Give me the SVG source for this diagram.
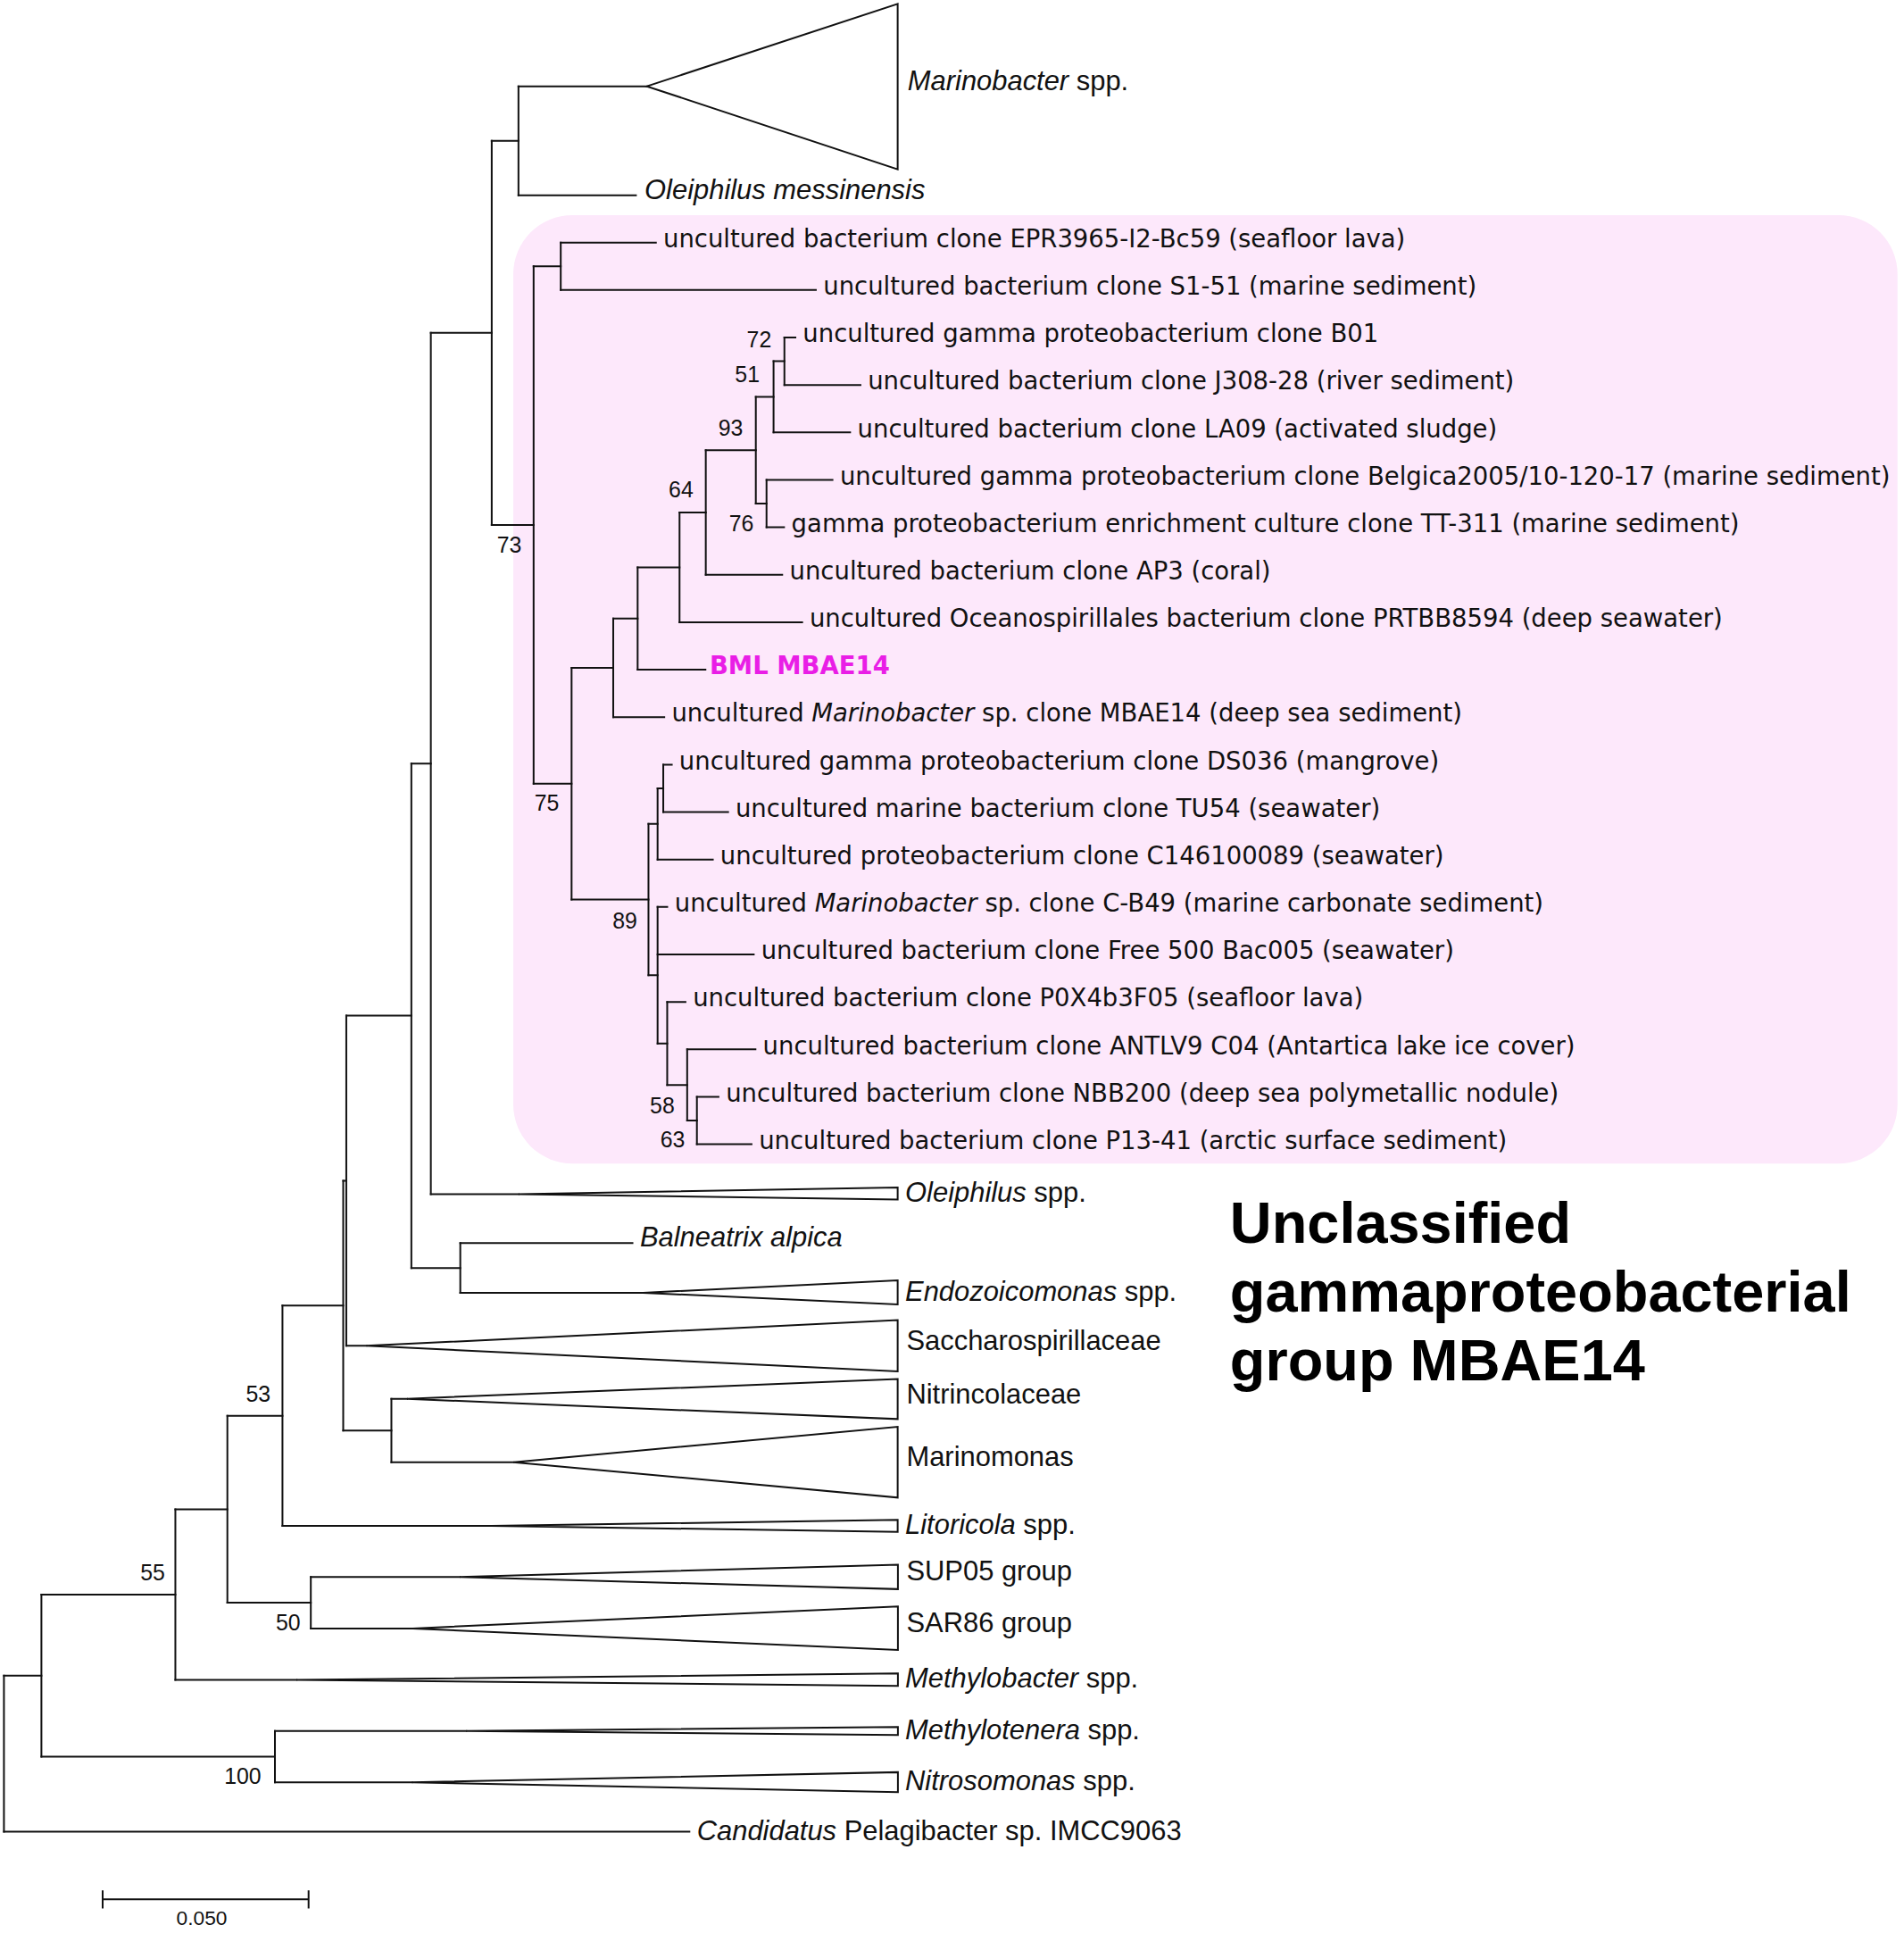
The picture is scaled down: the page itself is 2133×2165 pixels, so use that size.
<svg xmlns="http://www.w3.org/2000/svg" width="2133" height="2165" viewBox="0 0 2133 2165">
<style>
.br{fill:none;stroke:#111;stroke-width:1.45;stroke-linecap:square}
.tri{fill:none;stroke:#111;stroke-width:1.45;stroke-linejoin:miter}
.lf{font-family:"DejaVu Sans",Verdana,sans-serif;font-size:19.9px;fill:#111}
.cl{font-family:"Liberation Sans",Arial,sans-serif;font-size:22.4px;fill:#111}
.bs{font-family:"Liberation Sans",Arial,sans-serif;font-size:18px;fill:#111;text-anchor:end}
.hd{font-family:"Liberation Sans",Arial,sans-serif;font-size:47px;font-weight:bold;fill:#000}
.sc{font-family:"Liberation Sans",Arial,sans-serif;font-size:16.5px;fill:#111;text-anchor:middle}
.it{font-style:italic}
.bml{font-family:"DejaVu Sans",Verdana,sans-serif;font-size:19.9px;font-weight:bold;fill:#e91ee6}
</style>
<rect width="2133" height="2165" fill="#fff"/>
<g transform="scale(1.3806)">
<rect id="highlight-box" x="416.5" y="174.5" width="1123.2" height="769.5" rx="48" ry="48" fill="#fde8fb"/>
<g id="connectors">
<path class="br" d="M3.2 1359.35V1486M33.6 1293.65V1425.05M223.1 1404.2V1445.9M142.3 1224.4V1362.9M184.5 1148.55V1300.2M252.2 1279.3V1321.1M229.2 1059.2V1237.9M278.5 957.9V1160.5M281 824V1091.8M317.6 1134.8V1186.2M333.8 619.4V1028.65M373.5 1008.5V1048.8M349.6 270.05V968.7M399 114.2V425.9M420.7 70V158.4M433 216.05V635.8M455 196.8V235.3M463.8 541.8V729.8M497.6 501.8V581.8M517.4 460.3V543.3M551.4 415.75V504.8M572.7 365.2V466.3M613.3 321.9V408.55M627.7 293.05V350.8M636.5 273.8V312.3M622 389.3V427.8M526.2 668.4V791.15M533.6 639.55V697.3M538.2 620.3V658.8M533.6 735.8V846.5M541.4 812.8V880.2M557.6 851.3V909.05M565.5 889.8V928.3"/>
<path class="br" d="M3.2 1359.35H33.6M3.2 1486H559.4M33.6 1293.65H142.3M33.6 1425.05H223.1M223.1 1404.2H378.3M223.1 1445.9H334.3M142.3 1224.4H184.5M142.3 1362.9H240.6M184.5 1148.55H229.2M184.5 1300.2H252.2M252.2 1279.3H373.1M252.2 1321.1H335M229.2 1059.2H278.5M229.2 1237.9H398.9M278.5 957.9H281M278.5 1160.5H317.6M281 824H333.8M281 1091.8H297.3M317.6 1134.8H330.3M317.6 1186.2H416.7M333.8 619.4H349.6M333.8 1028.65H373.5M373.5 1008.5H513.2M373.5 1048.8H521.8M349.6 270.05H399M349.6 968.7H420.7M399 114.2H420.7M399 425.9H433M420.7 70H524.9M420.7 158.4H516M433 216.05H455M433 635.8H463.8M455 196.8H532.2M455 235.3H662M463.8 541.8H497.6M463.8 729.8H526.2M497.6 501.8H517.4M497.6 581.8H539M517.4 460.3H551.4M517.4 543.3H572.4M551.4 415.75H572.7M551.4 504.8H650.9M572.7 365.2H613.3M572.7 466.3H634.7M613.3 321.9H627.7M613.3 408.55H622M627.7 293.05H636.5M627.7 350.8H689.8M636.5 273.8H645.4M636.5 312.3H698.2M622 389.3H675.5M622 427.8H636.2M526.2 668.4H533.6M526.2 791.15H533.6M533.6 639.55H538.2M533.6 697.3H578.4M538.2 620.3H545.1M538.2 658.8H590.8M533.6 735.8H541.4M533.6 774.3H611.6M533.6 846.5H541.4M541.4 812.8H556.2M541.4 880.2H557.6M557.6 851.3H613M557.6 909.05H565.5M565.5 889.8H583M565.5 928.3H609.8"/>
</g>
<g id="collapsed-clades">
<g id="marinobacter"><polygon class="tri" points="524.9,70 728.4,3.2 728.4,137.4"/><text class="cl" x="736.5" y="73"><tspan class="it">Marinobacter</tspan> spp.</text></g>
<g id="oleiphilus-messinensis"><text class="cl it" x="523" y="161.7">Oleiphilus messinensis</text></g>
<g id="oleiphilus"><polygon class="tri" points="420.7,968.7 728.4,963.3 728.4,973.2"/><text class="cl" x="734.5" y="974.8"><tspan class="it">Oleiphilus</tspan> spp.</text></g>
<g id="balneatrix"><text class="cl it" x="519.3" y="1011">Balneatrix alpica</text></g>
<g id="endozoicomonas"><polygon class="tri" points="521.8,1048.8 728.4,1038.7 728.4,1058.2"/><text class="cl" x="734.5" y="1055"><tspan class="it">Endozoicomonas</tspan> spp.</text></g>
<g id="saccharospirillaceae"><polygon class="tri" points="297.3,1091.8 728.4,1071 728.4,1112.5"/><text class="cl" x="735.5" y="1095.5">Saccharospirillaceae</text></g>
<g id="nitrincolaceae"><polygon class="tri" points="330.3,1134.8 728.4,1118.8 728.4,1151.2"/><text class="cl" x="735.5" y="1138.3">Nitrincolaceae</text></g>
<g id="marinomonas"><polygon class="tri" points="416.7,1186.2 728.4,1157.5 728.4,1214.9"/><text class="cl" x="735.5" y="1189.3">Marinomonas</text></g>
<g id="litoricola"><polygon class="tri" points="398.9,1237.9 728.4,1233 728.4,1242.7"/><text class="cl" x="734.5" y="1244.3"><tspan class="it">Litoricola</tspan> spp.</text></g>
<g id="sup05"><polygon class="tri" points="373.1,1279.3 728.6,1269.4 728.6,1289.2"/><text class="cl" x="735.5" y="1282.3">SUP05 group</text></g>
<g id="sar86"><polygon class="tri" points="335,1321.1 728.6,1303.2 728.6,1338.5"/><text class="cl" x="735.5" y="1324.2">SAR86 group</text></g>
<g id="methylobacter"><polygon class="tri" points="240.6,1362.9 728.6,1357.6 728.6,1367.7"/><text class="cl" x="734.5" y="1368.7"><tspan class="it">Methylobacter</tspan> spp.</text></g>
<g id="methylotenera"><polygon class="tri" points="378.3,1404.2 728.6,1401 728.6,1407.5"/><text class="cl" x="734.5" y="1410.7"><tspan class="it">Methylotenera</tspan> spp.</text></g>
<g id="nitrosomonas"><polygon class="tri" points="334.3,1445.9 728.6,1437.7 728.6,1453.9"/><text class="cl" x="734.5" y="1452.2"><tspan class="it">Nitrosomonas</tspan> spp.</text></g>
<g id="pelagibacter"><text class="cl" x="565.5" y="1492.7"><tspan class="it">Candidatus</tspan> Pelagibacter sp. IMCC9063</text></g>
</g>
<g id="mbae14-leaves">
<g id="epr3965"><text class="lf" x="538.2" y="200.6">uncultured bacterium clone EPR3965-I2-Bc59 (seafloor lava)</text></g>
<g id="s1-51"><text class="lf" x="668" y="239.1">uncultured bacterium clone S1-51 (marine sediment)</text></g>
<g id="b01"><text class="lf" x="651.4" y="277.6">uncultured gamma proteobacterium clone B01</text></g>
<g id="j308-28"><text class="lf" x="704.2" y="316.1">uncultured bacterium clone J308-28 (river sediment)</text></g>
<g id="la09"><text class="lf" x="695.8" y="354.6">uncultured bacterium clone LA09 (activated sludge)</text></g>
<g id="belgica"><text class="lf" x="681.5" y="393.1">uncultured gamma proteobacterium clone Belgica2005/10-120-17 (marine sediment)</text></g>
<g id="tt-311"><text class="lf" x="642.2" y="431.6">gamma proteobacterium enrichment culture clone TT-311 (marine sediment)</text></g>
<g id="ap3"><text class="lf" x="640.7" y="470.1">uncultured bacterium clone AP3 (coral)</text></g>
<g id="prtbb8594"><text class="lf" x="656.9" y="508.6">uncultured Oceanospirillales bacterium clone PRTBB8594 (deep seawater)</text></g>
<g id="bml-mbae14"><text class="bml" x="575.8" y="547.1">BML MBAE14</text></g>
<g id="clone-mbae14"><text class="lf" x="545" y="585.6">uncultured <tspan class="it">Marinobacter</tspan> sp. clone MBAE14 (deep sea sediment)</text></g>
<g id="ds036"><text class="lf" x="551.1" y="624.1">uncultured gamma proteobacterium clone DS036 (mangrove)</text></g>
<g id="tu54"><text class="lf" x="596.8" y="662.6">uncultured marine bacterium clone TU54 (seawater)</text></g>
<g id="c146100089"><text class="lf" x="584.4" y="701.1">uncultured proteobacterium clone C146100089 (seawater)</text></g>
<g id="c-b49"><text class="lf" x="547.4" y="739.6">uncultured <tspan class="it">Marinobacter</tspan> sp. clone C-B49 (marine carbonate sediment)</text></g>
<g id="free500"><text class="lf" x="617.6" y="778.1">uncultured bacterium clone Free 500 Bac005 (seawater)</text></g>
<g id="p0x4b3f05"><text class="lf" x="562.2" y="816.6">uncultured bacterium clone P0X4b3F05 (seafloor lava)</text></g>
<g id="antlv9"><text class="lf" x="619" y="855.1">uncultured bacterium clone ANTLV9 C04 (Antartica lake ice cover)</text></g>
<g id="nbb200"><text class="lf" x="589" y="893.6">uncultured bacterium clone NBB200 (deep sea polymetallic nodule)</text></g>
<g id="p13-41"><text class="lf" x="615.8" y="932.1">uncultured bacterium clone P13-41 (arctic surface sediment)</text></g>
</g>
<g id="bootstrap">
<text class="bs" x="626" y="282">72</text>
<text class="bs" x="616.4" y="310.2">51</text>
<text class="bs" x="602.9" y="353.7">93</text>
<text class="bs" x="611.6" y="431">76</text>
<text class="bs" x="562.6" y="403.4">64</text>
<text class="bs" x="423.2" y="448.6">73</text>
<text class="bs" x="453.7" y="657.7">75</text>
<text class="bs" x="517" y="753">89</text>
<text class="bs" x="547.4" y="903.4">58</text>
<text class="bs" x="555.8" y="930.9">63</text>
<text class="bs" x="219.5" y="1137.2">53</text>
<text class="bs" x="133.9" y="1282">55</text>
<text class="bs" x="243.8" y="1322.6">50</text>
<text class="bs" x="212" y="1447.4">100</text>
</g>
<g id="group-title">
<text class="hd" x="998" y="1008">Unclassified</text>
<text class="hd" x="998" y="1064">gammaproteobacterial</text>
<text class="hd" x="998" y="1120">group MBAE14</text>
</g>
<g id="scale-bar">
<path class="br" d="M83.3 1540.9H250.4M83.3 1534.3V1547.6M250.4 1534.3V1547.6"/>
<text class="sc" x="163.7" y="1562">0.050</text>
</g>
</g>
</svg>
